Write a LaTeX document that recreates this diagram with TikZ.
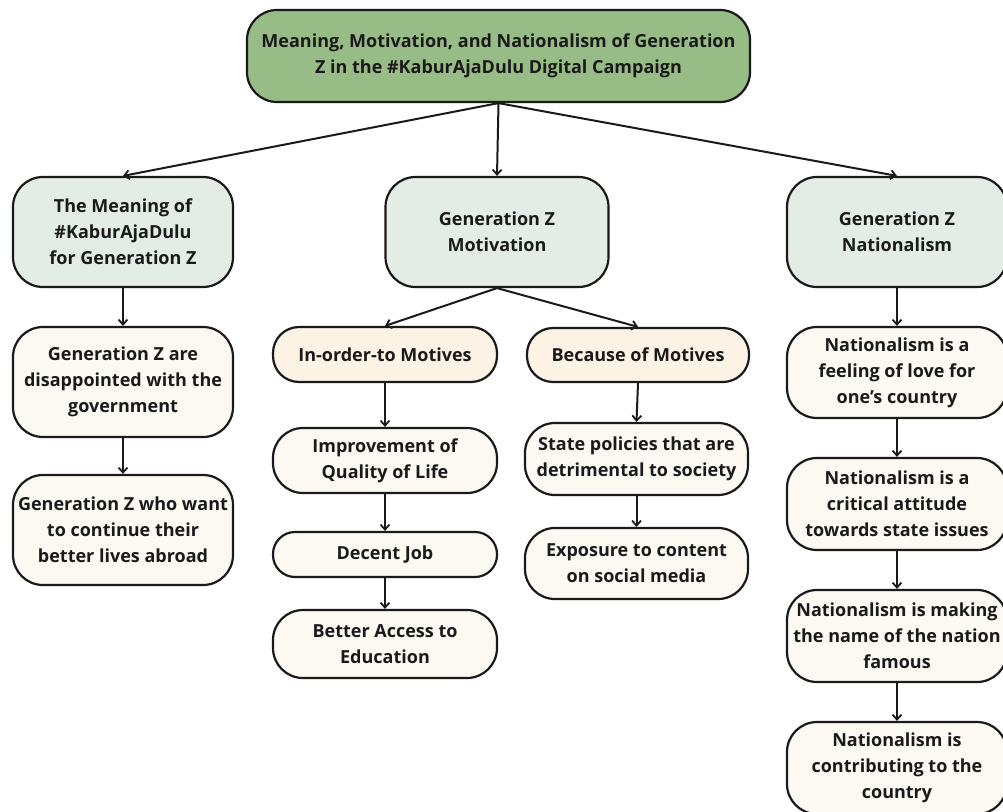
\documentclass[tikz,border=0pt]{standalone}
\usepackage{fontspec}
\setmainfont{Open Sans}
\usetikzlibrary{arrows.meta}
\definecolor{topgreen}{HTML}{98BC85}
\definecolor{midgreen}{HTML}{E3EDE5}
\definecolor{headcream}{HTML}{FDF3E4}
\definecolor{leafcream}{HTML}{FCF8F2}
\definecolor{ink}{HTML}{1A1A1A}
\begin{document}
\begin{tikzpicture}[x=1pt,y=-1pt,
  box/.style={draw=ink, line width=2.2pt, rounded corners=30pt, align=center,
    inner sep=0pt, text=ink, font=\fontsize{18}{26}\selectfont\bfseries},
  toplevel/.style={box, fill=topgreen},
  midlevel/.style={box, fill=midgreen},
  headlevel/.style={box, fill=headcream},
  leaflevel/.style={box, fill=leafcream},
  conn/.style={draw=ink, line width=2pt, -{Straight Barb[length=5pt,width=9pt,line width=1.8pt]}}
]
\useasboundingbox (0,0) rectangle (1003,811);
\fill[white] (0,0) rectangle (1003,811);
\clip (0,0) rectangle (1003,811);

\node[toplevel, minimum width=503pt, minimum height=92pt] (top) at (498.5,56)
  {Meaning, Motivation, and Nationalism of Generation\\Z in the \#KaburAjaDulu Digital Campaign};

\node[midlevel, minimum width=220pt, minimum height=110pt] (mean) at (123,232)
  {The Meaning of\\\#KaburAjaDulu\\for Generation Z};
\node[midlevel, minimum width=223pt, minimum height=110pt] (motiv) at (497,232)
  {Generation Z\\Motivation};
\node[midlevel, minimum width=220pt, minimum height=110pt] (nat) at (897,232)
  {Generation Z\\Nationalism};

\node[leaflevel, minimum width=220pt, minimum height=110pt] (dis) at (123,382)
  {Generation Z are\\disappointed with the\\government};
\node[leaflevel, minimum width=220pt, minimum height=110pt] (want) at (123,530)
  {Generation Z who want\\to continue their\\better lives abroad};

\node[headlevel, rounded corners=26pt, minimum width=224pt, minimum height=55pt] (inorder) at (385,354.5)
  {In-order-to Motives};
\node[headlevel, rounded corners=26pt, minimum width=222pt, minimum height=54pt] (because) at (638,355)
  {Because of Motives};

\node[leaflevel, minimum width=224pt, minimum height=65pt] (improve) at (385,460.5)
  {Improvement of\\Quality of Life};
\node[leaflevel, rounded corners=22pt, minimum width=224pt, minimum height=45pt] (job) at (385,554.5)
  {Decent Job};
\node[leaflevel, minimum width=224pt, minimum height=68pt] (access) at (385,644)
  {Better Access to\\Education};

\node[leaflevel, minimum width=223pt, minimum height=72pt] (state) at (636.5,459)
  {State policies that are\\detrimental to society};
\node[leaflevel, minimum width=223pt, minimum height=71pt] (expo) at (636.5,563.5)
  {Exposure to content\\on social media};

\node[leaflevel, minimum width=220pt, minimum height=91pt] (feel) at (897,372.5)
  {Nationalism is a\\feeling of love for\\one{\char"0027}s country};
\node[leaflevel, minimum width=220pt, minimum height=92pt] (crit) at (897,504)
  {Nationalism is a\\critical attitude\\towards state issues};
\node[leaflevel, minimum width=220pt, minimum height=92pt] (make) at (897,636)
  {Nationalism is making\\the name of the nation\\famous};
\node[leaflevel, minimum width=220pt, minimum height=92pt] (contrib) at (897,768)
  {Nationalism is\\contributing to the\\country};

\draw[conn] (top.south) -- (mean.north);
\draw[conn] (top.south) -- (motiv.north);
\draw[conn] (top.south) -- (nat.north);
\draw[conn] (mean.south) -- (dis.north);
\draw[conn] (dis.south) -- (want.north);
\draw[conn] (motiv.south) -- (inorder.north);
\draw[conn] (motiv.south) -- (because.north);
\draw[conn] (inorder.south) -- (improve.north);
\draw[conn] (improve.south) -- (job.north);
\draw[conn] (job.south) -- (access.north);
\draw[conn] (because.south) -- (state.north);
\draw[conn] (state.south) -- (expo.north);
\draw[conn] (nat.south) -- (feel.north);
\draw[conn] (feel.south) -- (crit.north);
\draw[conn] (crit.south) -- (make.north);
\draw[conn] (make.south) -- (contrib.north);
\end{tikzpicture}
\end{document}
